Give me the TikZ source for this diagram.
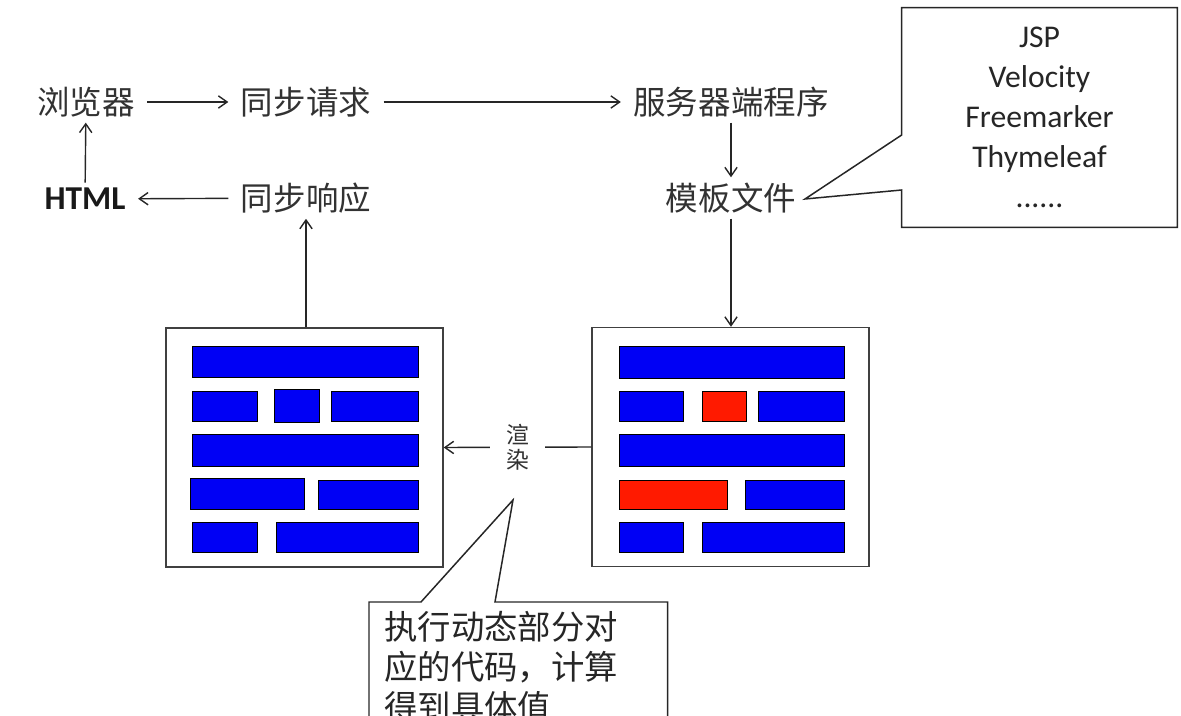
\documentclass[tikz,border=0pt]{standalone}
\usepackage{fontspec}
\setmainfont{Carlito}
\newfontfamily\cjk{Noto Sans CJK SC}
\usepackage{xcolor}
\usetikzlibrary{arrows.meta, positioning, calc}
\definecolor{barblue}{RGB}{0,0,245}
\definecolor{barred} {RGB}{255,26,0}
\definecolor{txtgray}{RGB}{50,50,50}

\begin{document}
\begin{tikzpicture}[
  x=0.02cm, y=-0.02cm,
  lbl/.style={font=\cjk\fontsize{18.5}{22}\selectfont, text=txtgray,
    inner xsep=7pt, inner ysep=3pt},
  page/.style={rectangle, draw=black!75, line width=0.85pt,
    minimum width=5.54cm, minimum height=4.78cm, inner sep=0pt},
  bar/.style={draw=black, line width=0.5pt, fill=barblue},
  hot/.style={draw=black, line width=0.5pt, fill=barred},
  callout/.style={draw=black!85, line width=0.85pt, fill=white},
  render/.style={fill=white, font=\cjk\fontsize{13}{14.7}\selectfont,
    text=txtgray, align=center, inner xsep=9pt, inner ysep=1pt},
  ar/.style={-{Straight Barb[length=5pt, width=7pt]}, line width=0.8pt,
    draw=black!85}
]
  \useasboundingbox (0,0) rectangle (1181,716);
  \clip (0,0) rectangle (1181,716);

  % request / response chain
  \node[lbl] (brw)  at (86,102)  {浏览器};
  \node[lbl] (req)  at (306,102) {同步请求};
  \node[lbl] (srv)  at (731,102) {服务器端程序};
  \node[lbl] (tpl)  at (731,198) {模板文件};
  \node[lbl, font=\fontsize{19}{22}\selectfont, text=black!90]
    (html) at (85,199) {\textbf{HTML}};
  \node[lbl] (resp) at (306,198) {同步响应};

  % pages
  \node[page] (lpage) at (304.5,447.5) {};
  \node[page] (rpage) at (730.5,447)   {};
  \foreach \xa/\ya/\xb/\yb in {192/346/418/377, 192/391/257/421,
      274/389/319/422, 331/391/418/421, 192/434/418/466,
      190/478/304/509, 318/480/418/509, 192/522/257/552,
      276/522/418/552}
    \filldraw[bar] (\xa,\ya) rectangle (\xb,\yb);
  \foreach \xa/\ya/\xb/\yb in {619/346/844/378, 619/391/683/421,
      758/391/844/421, 619/434/844/466, 745/480/844/509,
      619/522/683/552, 702/522/844/552}
    \filldraw[bar] (\xa,\ya) rectangle (\xb,\yb);
  \foreach \xa/\ya/\xb/\yb in {702/391/746/421, 619/480/727/509}
    \filldraw[hot] (\xa,\ya) rectangle (\xb,\yb);

  % Arrows
  \draw[ar] (brw)  -- (req);
  \draw[ar] (req)  -- (srv);
  \draw[ar] (srv)  -- (tpl);
  \draw[ar] (tpl)  -- (tpl |- rpage.north);
  \draw[ar] (rpage.west) -- node[render] (rnd) {渲\\染} (lpage.east);
  \draw[ar] (lpage.north -| resp) -- (resp);
  \draw[ar] (resp) -- (html);
  \draw[ar] (html) -- (brw);

  % engines callout
  \node[minimum width=5.5cm, minimum height=4.38cm] (engs) at (1039.5,117.5) {};
  \coordinate (engtip) at (805,199);
  \draw[callout] (engs.north west) -- (engs.north east)
    -- (engs.south east) -- (engs.south west)
    -- ($(engs.west)+(0,72.5)$) -- (engtip)
    -- ($(engs.west)+(0,17.5)$) -- cycle;
  \node[font=\fontsize{18}{22.7}\selectfont, text=black!85, align=center]
    (engtxt) at (engs) {JSP\\Velocity\\Freemarker\\Thymeleaf\\......};

  % code callout
  \node[anchor=north west, align=left, text width=5.36cm,
    inner xsep=0.3cm, inner ysep=0.18cm,
    font=\cjk\fontsize{19}{22.7}\selectfont, text=black!85]
    (code) at (369,602) {执行动态部分对\\应的代码，计算\\得到具体值};
  \coordinate (codetip) at (513,500);
  \draw[callout, fill=none] ($(code.south west)+(0,60)$) -- (code.north west)
    -- ($(code.north west)+(52,0)$) -- (codetip)
    -- ($(code.north west)+(126,0)$) -- (code.north east)
    -- ($(code.south east)+(0,60)$);
\end{tikzpicture}
\end{document}
